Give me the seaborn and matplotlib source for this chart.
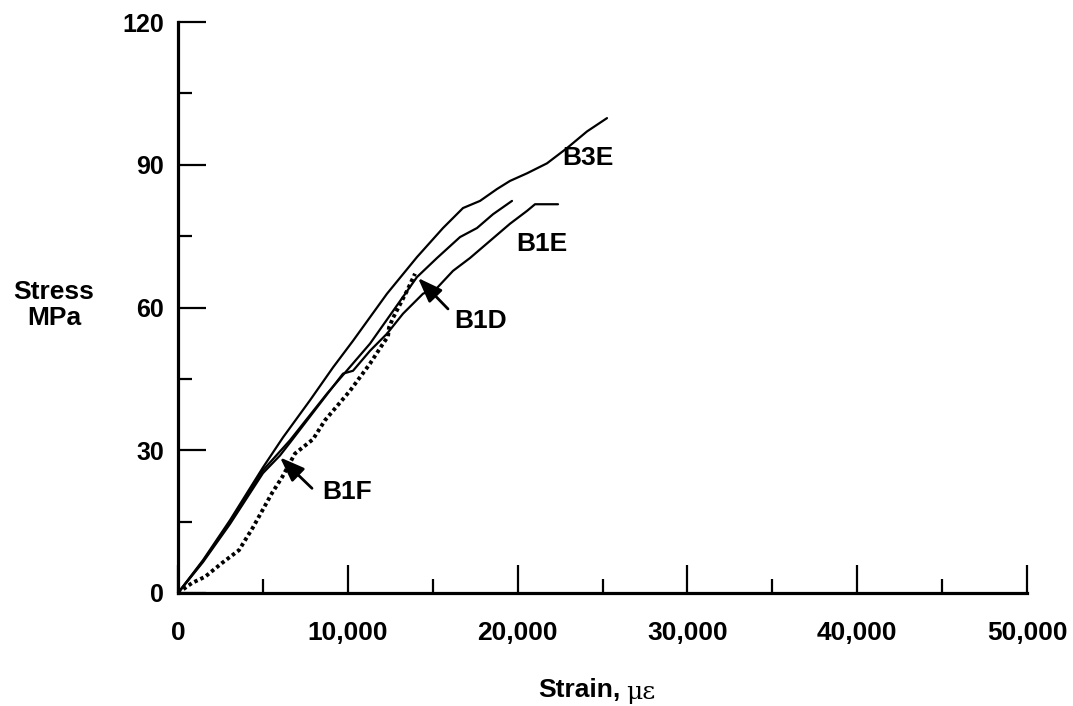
import matplotlib
matplotlib.use("Agg")
import matplotlib.pyplot as plt
import numpy as np
import pandas as pd
import seaborn as sns
from matplotlib.ticker import MultipleLocator, FuncFormatter

# ---------------- data ----------------
b3e_strain = [0, 1472, 3062, 5006, 6184, 7774, 9128, 10306, 12309, 14075, 15607,
              16785, 17786, 18787, 19552, 20554, 21732, 22910, 24087, 25265]
b3e_stress = [0, 6.9, 15.3, 26.4, 32.7, 40.5, 47.4, 53.0, 62.9, 70.6, 76.7,
              80.9, 82.4, 84.9, 86.6, 88.2, 90.3, 93.5, 97.0, 99.8]

b1f_strain = [0, 1472, 3062, 5006, 6596, 8775, 11307, 14075, 15253, 16608,
              17609, 18551, 19670]
b1f_stress = [0, 6.7, 14.9, 25.8, 32.1, 41.9, 52.4, 66.4, 70.4, 74.8,
              76.7, 79.6, 82.4]

b1e_strain = [0, 1472, 3062, 5006, 6007, 6596, 8186, 9717, 10306, 11307, 12309,
              13251, 14429, 15253, 16196, 17197, 18375, 19552, 20554, 21025, 22380]
b1e_stress = [0, 6.5, 14.5, 25.2, 28.9, 31.6, 39.0, 46.1, 46.7, 50.9, 54.5,
              58.7, 62.9, 64.1, 67.7, 70.4, 74.0, 77.6, 80.3, 81.7, 81.7]

b1d_strain = [0, 824, 1590, 2591, 3592, 4417, 5536, 6125, 6890, 7950, 8657,
              10130, 11307, 12073, 12368, 12427, 12662, 13487, 13958]
b1d_stress = [0, 2.1, 3.4, 6.3, 9.0, 13.8, 21.0, 24.3, 29.3, 32.3, 36.3,
              42.5, 48.2, 52.4, 53.9, 55.8, 57.8, 63.5, 67.1]

x_ticks = [0, 10000, 20000, 30000, 40000, 50000]
y_ticks = [0, 30, 60, 90, 120]

labels = ["B3E", "B1E", "B1D", "B1F"]
label_x = [24146, 21437, 17845, 9953]
label_y = [91.4, 73.4, 57.2, 21.2]
arrow_tail = {"B1D": (15901, 59.7), "B1F": (7892, 22.0)}
arrow_tip = {"B1D": (14134, 66.2), "B1F": (6007, 28.5)}

# ---------------- plotting ----------------
sns.set_theme(style="ticks")
plt.rcParams["font.family"] = ["Liberation Sans", "DejaVu Sans"]
plt.rcParams["font.weight"] = "bold"
for k in ["text.color", "axes.labelcolor", "xtick.color", "ytick.color",
          "axes.edgecolor"]:
    plt.rcParams[k] = "black"

W, H = 1073, 706
fig = plt.figure(figsize=(W / 100, H / 100), dpi=100)
fig.patch.set_facecolor("white")
ax = fig.add_axes([178 / W, 1 - 593 / H, (1027 - 178) / W, (593 - 22) / H])
ax.set_facecolor("white")

def frame(s, e, name):
    return pd.DataFrame({"strain": s, "stress": e, "specimen": name})

for s, e, name in [(b3e_strain, b3e_stress, "B3E"),
                   (b1f_strain, b1f_stress, "B1F"),
                   (b1e_strain, b1e_stress, "B1E")]:
    sns.lineplot(data=frame(s, e, name), x="strain", y="stress", ax=ax,
                 color="black", lw=1.6, sort=False, estimator=None)

sns.lineplot(data=frame(b1d_strain, b1d_stress, "B1D"), x="strain", y="stress",
             ax=ax, color="black", lw=2.8, sort=False, estimator=None,
             linestyle=(0, (0.9, 0.8)))

ax.set_xlim(0, 50000)
ax.set_ylim(0, 120)
ax.set_xticks(x_ticks)
ax.set_yticks(y_ticks)
ax.xaxis.set_minor_locator(MultipleLocator(5000))
ax.yaxis.set_minor_locator(MultipleLocator(15))
ax.xaxis.set_major_formatter(FuncFormatter(lambda v, p: f"{v:,.0f}"))

for sp in ["top", "right"]:
    ax.spines[sp].set_visible(False)
for sp in ["left", "bottom"]:
    ax.spines[sp].set_linewidth(2.3)
    ax.spines[sp].set_color("black")

ax.tick_params(axis="both", which="major", direction="in", length=20, width=1.6,
               colors="black")
ax.tick_params(axis="both", which="minor", direction="in", length=10, width=1.6,
               colors="black")
ax.tick_params(axis="x", which="major", pad=20.5, labelsize=19)
ax.tick_params(axis="y", which="major", pad=10, labelsize=18)
for t in ax.get_xticklabels() + ax.get_yticklabels():
    t.set_fontweight("bold")

ax.set_xlabel("")
ax.set_ylabel("")

# labels and arrows
for name, lx, ly in zip(labels, label_x, label_y):
    ax.text(lx, ly, name, ha="center", va="center", fontsize=19,
            fontweight="bold", color="black")
    if name in arrow_tail:
        ax.annotate("", xy=arrow_tip[name], xytext=arrow_tail[name],
                    arrowprops=dict(arrowstyle="-|>,head_length=0.75,head_width=0.28",
                                    mutation_scale=20, color="black", lw=2,
                                    shrinkA=0, shrinkB=0))

# axis titles
fig.text(54 / W, 1 - 305 / H, "Stress\nMPa", ha="center", va="center",
         fontsize=19, fontweight="bold", linespacing=1.1)
fig.text(538 / W, 1 - 690 / H, "Strain,", ha="left", va="center",
         fontsize=19, fontweight="bold")
fig.text(626 / W, 1 - 692 / H, "με", ha="left", va="center",
         fontsize=18, fontweight="normal", family=["DejaVu Serif", "DejaVu Sans"])

fig.savefig("out.png", dpi=100, facecolor="white")
